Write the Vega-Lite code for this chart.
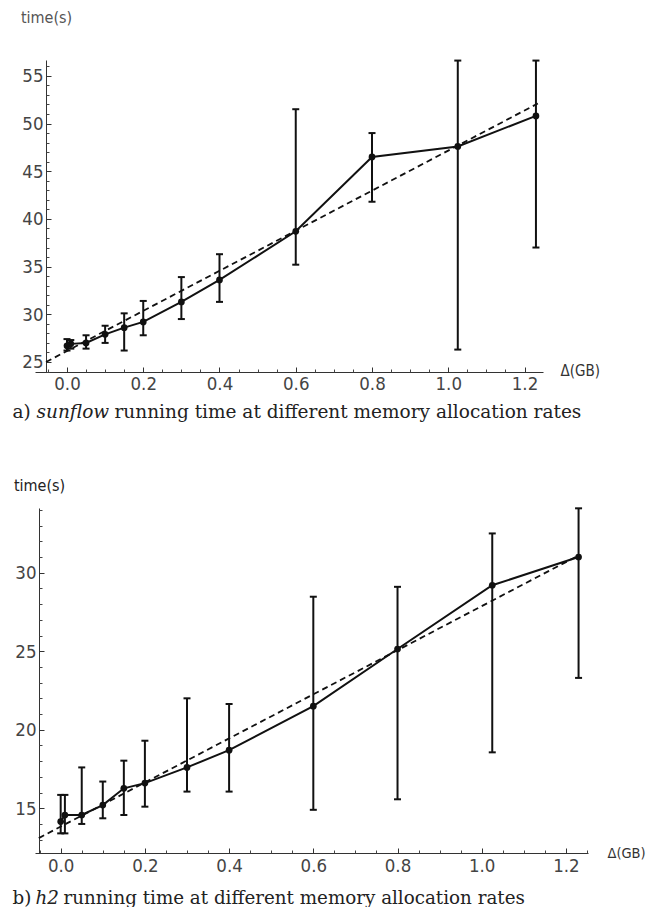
{
  "$schema": "https://vega.github.io/schema/vega-lite/v6.json",
  "background": "white",
  "padding": {"left": 12, "top": 9, "right": 0, "bottom": 0},
  "spacing": 56,
  "config": {"view": {"stroke": null}, "axis": {"grid": false}},
  "datasets": {
    "a": [
      {"x": 0.0, "mean": 26.7, "lo": 26.2, "hi": 27.4},
      {"x": 0.01, "mean": 26.9, "lo": 26.4, "hi": 27.3},
      {"x": 0.05, "mean": 27.0, "lo": 26.4, "hi": 27.8},
      {"x": 0.1, "mean": 27.9, "lo": 27.0, "hi": 28.8},
      {"x": 0.15, "mean": 28.6, "lo": 26.2, "hi": 30.1},
      {"x": 0.2, "mean": 29.2, "lo": 27.8, "hi": 31.4},
      {"x": 0.3, "mean": 31.3, "lo": 29.5, "hi": 33.9},
      {"x": 0.4, "mean": 33.6, "lo": 31.3, "hi": 36.3},
      {"x": 0.6, "mean": 38.7, "lo": 35.2, "hi": 51.5},
      {"x": 0.8, "mean": 46.5, "lo": 41.8, "hi": 49.0},
      {"x": 1.025, "mean": 47.6, "lo": 26.3, "hi": 56.6},
      {"x": 1.23, "mean": 50.8, "lo": 37.0, "hi": 56.6}
    ],
    "afit": [
      {"x": -0.055, "y": 25.0},
      {"x": 1.235, "y": 52.1}
    ],
    "b": [
      {"x": 0.0, "mean": 14.15, "lo": 13.4, "hi": 15.85},
      {"x": 0.01, "mean": 14.57, "lo": 13.4, "hi": 15.85},
      {"x": 0.05, "mean": 14.57, "lo": 14.0, "hi": 17.6},
      {"x": 0.1, "mean": 15.2, "lo": 14.36, "hi": 16.7},
      {"x": 0.15, "mean": 16.27, "lo": 14.57, "hi": 18.03},
      {"x": 0.2, "mean": 16.6, "lo": 15.1, "hi": 19.3},
      {"x": 0.3, "mean": 17.6, "lo": 16.06, "hi": 22.0},
      {"x": 0.4, "mean": 18.7, "lo": 16.06, "hi": 21.64},
      {"x": 0.6, "mean": 21.5, "lo": 14.9, "hi": 28.47},
      {"x": 0.8, "mean": 25.14, "lo": 15.57, "hi": 29.1},
      {"x": 1.025, "mean": 29.2, "lo": 18.56, "hi": 32.5},
      {"x": 1.23, "mean": 31.0, "lo": 23.3, "hi": 34.1}
    ],
    "bfit": [
      {"x": -0.052, "y": 13.1},
      {"x": 1.23, "y": 31.1}
    ]
  },
  "vconcat": [
    {
      "width": 508,
      "height": 312,
      "resolve": {"axis": {"x": "independent", "y": "independent"}},
      "layer": [
        {
          "data": {"name": "afit"},
          "mark": {"type": "line", "strokeDash": [6, 4], "strokeWidth": 1.8, "color": "#111"},
          "encoding": {
            "x": {"field": "x", "type": "quantitative", "scale": {"domain": [-0.0839, 1.2485], "nice": false, "zero": false},
              "axis": {"orient": "bottom", "values": [0, 0.2, 0.4, 0.6, 0.8, 1.0, 1.2], "format": ".1f", "ticks": false, "domain": true, "domainColor": "#333", "domainWidth": 1,
                "labelFont": "DejaVu Sans Condensed", "labelFontSize": 18.5, "labelColor": "#444", "labelPadding": 2,
                "title": "Δ(GB)", "titleX": 525, "titleY": -2, "titleAlign": "left", "titleBaseline": "middle", "titleAngle": 0,
                "titleFont": "DejaVu Sans Condensed", "titleFontSize": 15, "titleFontWeight": "normal", "titleColor": "#333"}},
            "y": {"field": "y", "type": "quantitative", "scale": {"domain": [23.95, 56.66], "nice": false, "zero": false},
              "axis": {"orient": "left", "offset": -11, "values": [25, 30, 35, 40, 45, 50, 55], "ticks": false, "domain": true, "domainColor": "#333", "domainWidth": 1,
                "labelFont": "DejaVu Sans Condensed", "labelFontSize": 18.5, "labelColor": "#444", "labelPadding": 3,
                "title": "time(s)", "titleX": 0, "titleY": -43, "titleAlign": "center", "titleBaseline": "middle", "titleAngle": 0,
                "titleFont": "DejaVu Sans Condensed", "titleFontSize": 16, "titleFontWeight": "normal", "titleColor": "#555"}}
          }
        },
        {
          "data": {"name": "a"},
          "mark": {"type": "line", "strokeWidth": 2, "color": "#111"},
          "encoding": {
            "x": {"field": "x", "type": "quantitative", "scale": {"domain": [-0.0839, 1.2485], "nice": false, "zero": false},
              "axis": {"orient": "bottom", "values": [0, 0.2, 0.4, 0.6, 0.8, 1.0, 1.2], "labels": false, "domain": false, "ticks": true, "tickSize": -5, "tickColor": "#333", "tickWidth": 1,
                "title": "a)", "titleX": -23, "titleY": 45, "titleAlign": "left", "titleBaseline": "alphabetic", "titleAngle": 0,
                "titleFont": "DejaVu Serif", "titleFontSize": 18.5, "titleFontWeight": "normal", "titleColor": "#222"}},
            "y": {"field": "mean", "type": "quantitative", "scale": {"domain": [23.95, 56.66], "nice": false, "zero": false},
              "axis": {"orient": "left", "offset": -11, "values": [25, 30, 35, 40, 45, 50, 55], "labels": false, "domain": false, "ticks": true, "tickSize": -5, "tickColor": "#333", "tickWidth": 1, "title": null}}
          }
        },
        {
          "data": {"name": "a"},
          "mark": {"type": "point", "filled": true, "size": 45, "color": "#111", "opacity": 1},
          "encoding": {
            "x": {"field": "x", "type": "quantitative", "scale": {"domain": [-0.0839, 1.2485], "nice": false, "zero": false},
              "axis": {"orient": "bottom", "values": [-0.05, 0.05, 0.1, 0.15, 0.25, 0.3, 0.35, 0.45, 0.5, 0.55, 0.65, 0.7, 0.75, 0.85, 0.9, 0.95, 1.05, 1.1, 1.15], "labels": false, "domain": false, "ticks": true, "tickSize": -3, "tickColor": "#444", "tickWidth": 1,
                "title": "sunflow", "titleX": 1, "titleY": 45, "titleAlign": "left", "titleBaseline": "alphabetic", "titleAngle": 0,
                "titleFont": "DejaVu Serif", "titleFontSize": 18.5, "titleFontStyle": "italic", "titleFontWeight": "normal", "titleColor": "#222"}},
            "y": {"field": "mean", "type": "quantitative", "scale": {"domain": [23.95, 56.66], "nice": false, "zero": false},
              "axis": {"orient": "left", "offset": -11, "values": [24, 26, 27, 28, 29, 31, 32, 33, 34, 36, 37, 38, 39, 41, 42, 43, 44, 46, 47, 48, 49, 51, 52, 53, 54, 56], "labels": false, "domain": false, "ticks": true, "tickSize": -3, "tickColor": "#444", "tickWidth": 1, "title": null}}
          }
        },
        {
          "data": {"name": "a"},
          "mark": {"type": "rule", "strokeWidth": 2, "color": "#111"},
          "encoding": {
            "x": {"field": "x", "type": "quantitative", "scale": {"domain": [-0.0839, 1.2485], "nice": false, "zero": false},
              "axis": {"orient": "bottom", "labels": false, "domain": false, "ticks": false,
                "title": "running time at different memory allocation rates", "titleX": 79, "titleY": 45, "titleAlign": "left", "titleBaseline": "alphabetic", "titleAngle": 0,
                "titleFont": "DejaVu Serif", "titleFontSize": 18.5, "titleFontWeight": "normal", "titleColor": "#222"}},
            "y": {"field": "lo", "type": "quantitative", "scale": {"domain": [23.95, 56.66], "nice": false, "zero": false}, "axis": null},
            "y2": {"field": "hi"}
          }
        },
        {
          "data": {"name": "a"},
          "mark": {"type": "tick", "orient": "horizontal", "size": 7, "thickness": 2, "color": "#111", "opacity": 1},
          "encoding": {
            "x": {"field": "x", "type": "quantitative", "scale": {"domain": [-0.0839, 1.2485], "nice": false, "zero": false}, "axis": null},
            "y": {"field": "lo", "type": "quantitative", "scale": {"domain": [23.95, 56.66], "nice": false, "zero": false}, "axis": null}
          }
        },
        {
          "data": {"name": "a"},
          "mark": {"type": "tick", "orient": "horizontal", "size": 7, "thickness": 2, "color": "#111", "opacity": 1},
          "encoding": {
            "x": {"field": "x", "type": "quantitative", "scale": {"domain": [-0.0839, 1.2485], "nice": false, "zero": false}, "axis": null},
            "y": {"field": "hi", "type": "quantitative", "scale": {"domain": [23.95, 56.66], "nice": false, "zero": false}, "axis": null}
          }
        }
      ]
    },
    {
      "width": 553,
      "height": 345,
      "resolve": {"axis": {"x": "independent", "y": "independent"}},
      "layer": [
        {
          "data": {"name": "bfit"},
          "mark": {"type": "line", "strokeDash": [6, 4], "strokeWidth": 1.8, "color": "#111"},
          "encoding": {
            "x": {"field": "x", "type": "quantitative", "scale": {"domain": [-0.061, 1.2524], "nice": false, "zero": false},
              "axis": {"orient": "bottom", "values": [0, 0.2, 0.4, 0.6, 0.8, 1.0, 1.2], "format": ".1f", "ticks": false, "domain": true, "domainColor": "#333", "domainWidth": 1,
                "labelFont": "DejaVu Sans Condensed", "labelFontSize": 18.5, "labelColor": "#444", "labelPadding": 3,
                "title": "Δ(GB)", "titleX": 572, "titleY": 0, "titleAlign": "left", "titleBaseline": "middle", "titleAngle": 0,
                "titleFont": "DejaVu Sans Condensed", "titleFontSize": 14.5, "titleFontWeight": "normal", "titleColor": "#333"}},
            "y": {"field": "y", "type": "quantitative", "scale": {"domain": [12.15, 34.12], "nice": false, "zero": false},
              "axis": {"orient": "left", "offset": -4, "values": [15, 20, 25, 30], "ticks": false, "domain": true, "domainColor": "#333", "domainWidth": 1,
                "labelFont": "DejaVu Sans Condensed", "labelFontSize": 18.5, "labelColor": "#444", "labelPadding": 3,
                "title": "time(s)", "titleX": 0, "titleY": -23, "titleAlign": "center", "titleBaseline": "middle", "titleAngle": 0,
                "titleFont": "DejaVu Sans Condensed", "titleFontSize": 16, "titleFontWeight": "normal", "titleColor": "#222"}}
          }
        },
        {
          "data": {"name": "b"},
          "mark": {"type": "line", "strokeWidth": 2, "color": "#111"},
          "encoding": {
            "x": {"field": "x", "type": "quantitative", "scale": {"domain": [-0.061, 1.2524], "nice": false, "zero": false},
              "axis": {"orient": "bottom", "values": [0, 0.2, 0.4, 0.6, 0.8, 1.0, 1.2], "labels": false, "domain": false, "ticks": true, "tickSize": -5, "tickColor": "#333", "tickWidth": 1,
                "title": "b)", "titleX": -23, "titleY": 50, "titleAlign": "left", "titleBaseline": "alphabetic", "titleAngle": 0,
                "titleFont": "DejaVu Serif", "titleFontSize": 18.3, "titleFontWeight": "normal", "titleColor": "#222"}},
            "y": {"field": "mean", "type": "quantitative", "scale": {"domain": [12.15, 34.12], "nice": false, "zero": false},
              "axis": {"orient": "left", "offset": -4, "values": [15, 20, 25, 30], "labels": false, "domain": false, "ticks": true, "tickSize": -5, "tickColor": "#333", "tickWidth": 1, "title": null}}
          }
        },
        {
          "data": {"name": "b"},
          "mark": {"type": "point", "filled": true, "size": 45, "color": "#111", "opacity": 1},
          "encoding": {
            "x": {"field": "x", "type": "quantitative", "scale": {"domain": [-0.061, 1.2524], "nice": false, "zero": false},
              "axis": {"orient": "bottom", "values": [-0.05, 0.05, 0.1, 0.15, 0.25, 0.3, 0.35, 0.45, 0.5, 0.55, 0.65, 0.7, 0.75, 0.85, 0.9, 0.95, 1.05, 1.1, 1.15, 1.25], "labels": false, "domain": false, "ticks": true, "tickSize": -3, "tickColor": "#444", "tickWidth": 1,
                "title": "h2", "titleX": 0, "titleY": 50, "titleAlign": "left", "titleBaseline": "alphabetic", "titleAngle": 0,
                "titleFont": "DejaVu Serif", "titleFontSize": 18.3, "titleFontStyle": "italic", "titleFontWeight": "normal", "titleColor": "#222"}},
            "y": {"field": "mean", "type": "quantitative", "scale": {"domain": [12.15, 34.12], "nice": false, "zero": false},
              "axis": {"orient": "left", "offset": -4, "values": [13, 14, 16, 17, 18, 19, 21, 22, 23, 24, 26, 27, 28, 29, 31, 32, 33, 34], "labels": false, "domain": false, "ticks": true, "tickSize": -3, "tickColor": "#444", "tickWidth": 1, "title": null}}
          }
        },
        {
          "data": {"name": "b"},
          "mark": {"type": "rule", "strokeWidth": 2, "color": "#111"},
          "encoding": {
            "x": {"field": "x", "type": "quantitative", "scale": {"domain": [-0.061, 1.2524], "nice": false, "zero": false},
              "axis": {"orient": "bottom", "labels": false, "domain": false, "ticks": false,
                "title": "running time at different memory allocation rates", "titleX": 28, "titleY": 50, "titleAlign": "left", "titleBaseline": "alphabetic", "titleAngle": 0,
                "titleFont": "DejaVu Serif", "titleFontSize": 18.3, "titleFontWeight": "normal", "titleColor": "#222"}},
            "y": {"field": "lo", "type": "quantitative", "scale": {"domain": [12.15, 34.12], "nice": false, "zero": false}, "axis": null},
            "y2": {"field": "hi"}
          }
        },
        {
          "data": {"name": "b"},
          "mark": {"type": "tick", "orient": "horizontal", "size": 7, "thickness": 2, "color": "#111", "opacity": 1},
          "encoding": {
            "x": {"field": "x", "type": "quantitative", "scale": {"domain": [-0.061, 1.2524], "nice": false, "zero": false}, "axis": null},
            "y": {"field": "lo", "type": "quantitative", "scale": {"domain": [12.15, 34.12], "nice": false, "zero": false}, "axis": null}
          }
        },
        {
          "data": {"name": "b"},
          "mark": {"type": "tick", "orient": "horizontal", "size": 7, "thickness": 2, "color": "#111", "opacity": 1},
          "encoding": {
            "x": {"field": "x", "type": "quantitative", "scale": {"domain": [-0.061, 1.2524], "nice": false, "zero": false}, "axis": null},
            "y": {"field": "hi", "type": "quantitative", "scale": {"domain": [12.15, 34.12], "nice": false, "zero": false}, "axis": null}
          }
        }
      ]
    }
  ]
}
